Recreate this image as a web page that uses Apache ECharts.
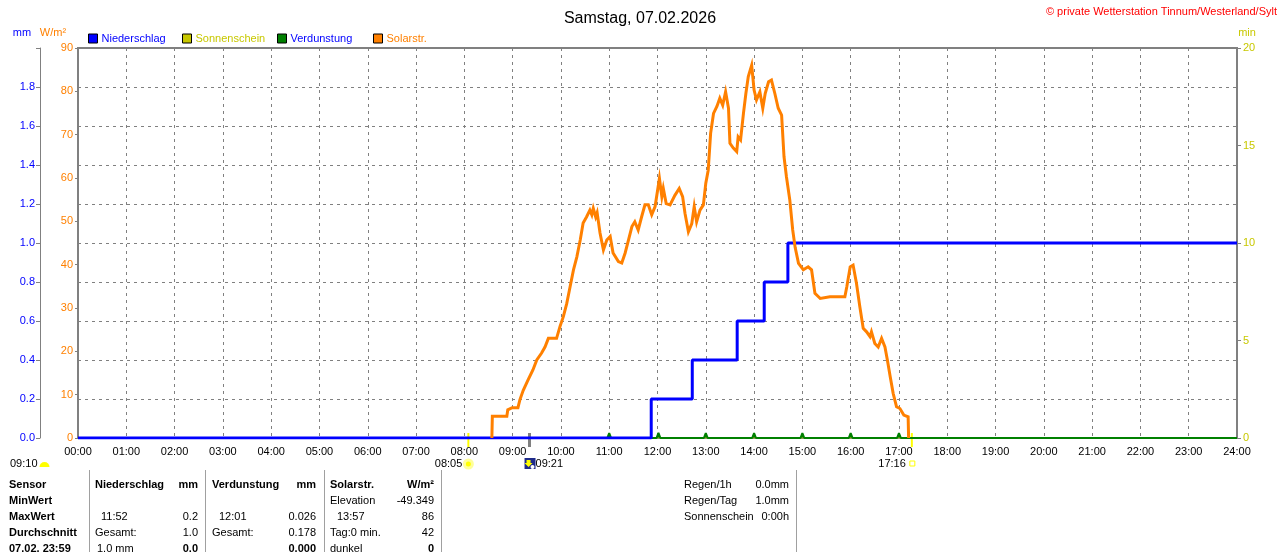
<!DOCTYPE html>
<html><head><meta charset="utf-8">
<script src="https://cdn.jsdelivr.net/npm/echarts/dist/echarts.min.js"></script>
<style>html,body{margin:0;padding:0;background:#fff;overflow:hidden}#c{width:1280px;height:552px}</style>
</head><body><div id="c"></div>
<script>
// ---------- data ----------
const hourLabels = ['00:00','01:00','02:00','03:00','04:00','05:00','06:00','07:00','08:00','09:00','10:00','11:00','12:00','13:00','14:00','15:00','16:00','17:00','18:00','19:00','20:00','21:00','22:00','23:00','24:00'];

// Solarstrahlung (W/m²), time in decimal hours
const solarHours = [8.57,8.58,8.88,8.90,8.99,9.11,9.15,9.22,9.32,9.42,9.50,9.60,9.67,9.74,9.91,9.98,10.05,10.12,10.19,10.26,10.33,10.40,10.46,10.53,10.60,10.64,10.67,10.72,10.75,10.81,10.88,10.95,11.02,11.08,11.19,11.26,11.33,11.40,11.47,11.53,11.60,11.67,11.74,11.81,11.88,11.95,12.04,12.09,12.12,12.18,12.26,12.36,12.45,12.52,12.57,12.64,12.71,12.76,12.81,12.88,12.95,13.00,13.05,13.10,13.16,13.23,13.29,13.35,13.41,13.47,13.50,13.57,13.64,13.67,13.72,13.78,13.83,13.88,13.95,14.00,14.05,14.12,14.18,14.23,14.30,14.36,14.43,14.50,14.57,14.62,14.67,14.74,14.80,14.85,14.92,15.02,15.12,15.19,15.26,15.37,15.57,15.88,15.92,15.99,16.05,16.12,16.19,16.26,16.33,16.40,16.43,16.50,16.57,16.64,16.71,16.76,16.82,16.88,16.95,17.02,17.10,17.19,17.20];
const solarWm2   = [0,5,5,6.5,7,7,8.8,11,13.4,15.7,18,19.6,21,23,23,25.7,28,31,34.9,38.8,41.8,45.7,49.6,51,52.6,51.5,53,51,52,47.3,43.4,45.7,46.5,42.7,40.7,40.4,42.7,45.7,48.8,49.9,48,51,53.8,53.8,51.5,53.4,59.9,55.7,57.6,54.1,53.8,56,57.6,55.7,51.8,47.6,49.5,53.4,49.9,52.6,53.8,58.8,61.8,70.3,74.9,76.5,78.4,76.8,79.9,76.1,68,66.9,66.1,69.5,68.8,74.9,79.5,83.4,86,80.3,78,79.9,76.1,79.5,82.2,82.6,79.5,76.1,74.5,64.9,60.3,54.9,48,44,40.3,38.8,39.5,38.8,33.4,32.2,32.6,32.6,34.9,39.5,39.9,35.7,30.3,25.3,24.5,23.4,24.5,21.8,21,23,21,18,14.1,10.3,7.2,6.8,5.3,4.9,0];

// Niederschlag (mm, cumulative)
const rainHours = [0, 11.87, 12.72, 13.65, 14.21, 14.70, 24];
const rainMm    = [0, 0.2, 0.4, 0.6, 0.8, 1.0, 1.0];

// Verdunstung (mm)
const evapHours = [0,10.96,11.00,11.04,11.98,12.02,12.06,12.96,13.00,13.04,13.96,14.00,14.04,14.96,15.00,15.04,15.96,16.00,16.04,16.96,17.00,17.04,24];
const evapMm    = [0,0,0.025,0,0,0.026,0,0,0.025,0,0,0.025,0,0,0.025,0,0,0.025,0,0,0.025,0,0];

// Sonnenschein (min)
const sunHours = [0, 24];
const sunMin   = [0, 0];

// markers under the time axis
const sunriseTime = 8 + 5/60;   // 08:05
const sunsetTime  = 17 + 16/60; // 17:16
const rainTime    = 9 + 21/60;  // 09:21

const zip = (a, b) => a.map((v, i) => [v, b[i]]);
const FF = '"Liberation Sans", Arial, sans-serif';
const GRID = '#808080';
const dash = [3, 4];

const chart = echarts.init(document.getElementById('c'), null, {renderer: 'canvas'});

const legendNames = ['Niederschlag', 'Sonnenschein', 'Verdunstung', 'Solarstr.'];
const legendTextColors = ['#0000ff', '#c8c800', '#0000ff', '#ff8000'];
const legendLeft = [88, 182, 277, 373];

const option = {
  animation: false,
  backgroundColor: '#ffffff',
  title: {
    text: 'Samstag, 07.02.2026', left: 'center', top: 6,
    textStyle: {fontSize: 16, fontWeight: 'normal', color: '#000', fontFamily: FF}
  },
  legend: legendNames.map((n, i) => ({
    data: [{name: n, icon: 'rect', itemStyle: {borderColor: '#000', borderWidth: 1}}],
    left: legendLeft[i], top: 33, padding: 0, itemWidth: 9, itemHeight: 9, itemGap: 0,
    selectedMode: false,
    textStyle: {color: legendTextColors[i], fontSize: 11, fontFamily: FF, padding: [1, 0, 0, -1]}
  })),
  grid: {left: 78, right: 43, top: 48, bottom: 114, show: true, borderColor: GRID, borderWidth: 2, containLabel: false},
  xAxis: {
    type: 'value', min: 0, max: 24, interval: 1,
    axisLine: {show: true, onZero: false, lineStyle: {color: GRID, width: 2}},
    axisTick: {show: false},
    axisLabel: {color: '#000', fontSize: 11, fontFamily: FF, margin: 8, formatter: v => hourLabels[Math.round(v)]},
    splitLine: {show: true, lineStyle: {color: GRID, type: dash, width: 1}}
  },
  yAxis: [
    {
      type: 'value', position: 'left', offset: 38, min: 0, max: 2, interval: 0.2,
      axisLine: {show: true, onZero: false, lineStyle: {color: GRID, width: 1}},
      axisTick: {show: true, length: 4, lineStyle: {color: GRID}},
      axisLabel: {color: '#0000ff', fontSize: 11, fontFamily: FF, margin: 5, formatter: v => v >= 1.99 ? '' : v.toFixed(1)},
      splitLine: {show: true, lineStyle: {color: GRID, type: dash, width: 1}}
    },
    {
      type: 'value', position: 'left', offset: 0, min: 0, max: 90, interval: 10,
      axisLine: {show: true, onZero: false, lineStyle: {color: GRID, width: 2}},
      axisTick: {show: true, length: 3, lineStyle: {color: GRID}},
      axisLabel: {color: '#ff8000', fontSize: 11, fontFamily: FF, margin: 5},
      splitLine: {show: false}
    },
    {
      type: 'value', position: 'right', min: 0, max: 20, interval: 5,
      axisLine: {show: true, onZero: false, lineStyle: {color: GRID, width: 2}},
      axisTick: {show: true, length: 4, lineStyle: {color: GRID}},
      axisLabel: {color: '#c8c800', fontSize: 11, fontFamily: FF, margin: 6},
      splitLine: {show: false}
    }
  ],
  series: [
    {name: 'Sonnenschein', type: 'line', yAxisIndex: 2, color: '#c8c800', showSymbol: false, symbol: 'none',
     lineStyle: {width: 1, color: '#c8c800'}, data: zip(sunHours, sunMin)},
    {name: 'Verdunstung', type: 'line', yAxisIndex: 0, color: '#008000', showSymbol: false, symbol: 'none',
     lineStyle: {width: 2, color: '#008000'}, areaStyle: {color: '#008000', opacity: 1}, data: zip(evapHours, evapMm)},
    {name: 'Niederschlag', type: 'line', yAxisIndex: 0, color: '#0000ff', showSymbol: false, symbol: 'none', step: 'end',
     lineStyle: {width: 3, color: '#0000ff'}, data: zip(rainHours, rainMm)},
    {name: 'Solarstr.', type: 'line', yAxisIndex: 1, color: '#ff8000', showSymbol: false, symbol: 'none',
     lineStyle: {width: 3, color: '#ff8000', join: 'miter'}, data: zip(solarHours, solarWm2)}
  ]
};
chart.setOption(option);

// ---------- annotations (positions derived from the axis) ----------
const px = h => chart.convertToPixel({xAxisIndex: 0}, h);
const g = [];
const T = (x, y, text, o = {}) => g.push({
  type: 'text', x, y, silent: true,
  style: {text, fill: o.fill || '#000', font: (o.bold ? 'bold ' : '') + (o.size || 11) + 'px ' + FF,
          align: o.align || 'left', verticalAlign: 'middle'}
});

// header texts
T(1277, 12, '\u00A9 private Wetterstation Tinnum/Westerland/Sylt', {fill: '#ff0000', align: 'right'});
T(22, 33, 'mm', {fill: '#0000ff', align: 'center'});
T(53, 33, 'W/m\u00B2', {fill: '#ff8000', align: 'center'});
T(1247, 33, 'min', {fill: '#c8c800', align: 'center'});

// sunrise / sunset / rain markers
const xr = px(sunriseTime), xs = px(sunsetTime), xrain = px(rainTime);
g.push({type: 'line', silent: true, shape: {x1: xr, y1: 433, x2: xr, y2: 447}, style: {stroke: '#ffff00', lineWidth: 2}});
g.push({type: 'line', silent: true, shape: {x1: xs, y1: 433, x2: xs, y2: 447}, style: {stroke: '#ffff00', lineWidth: 2}});
g.push({type: 'line', silent: true, shape: {x1: xrain, y1: 433, x2: xrain, y2: 447}, style: {stroke: '#808080', lineWidth: 3}});

// 09:10 with half-sun
T(10, 464, '09:10');
g.push({type: 'sector', silent: true, shape: {cx: 44.5, cy: 467, r0: 0, r: 5, startAngle: Math.PI, endAngle: Math.PI * 2}, style: {fill: '#ffff00'}});
// 08:05 sunrise
T(xr - 6, 464, '08:05', {align: 'right'});
g.push({type: 'circle', silent: true, shape: {cx: xr, cy: 464, r: 4}, style: {fill: '#ffff00', stroke: '#ffff99', lineWidth: 3}});
// 09:21 rain icon
g.push({type: 'rect', silent: true, shape: {x: xrain - 5, y: 458, width: 11, height: 11}, style: {fill: '#1e2a8a'}});
g.push({type: 'polygon', silent: true, shape: {points: [[xrain - 3, 460], [xrain + 1, 460], [xrain + 1, 463], [xrain + 3, 463], [xrain - 1, 467], [xrain - 5, 463], [xrain - 3, 463]]}, style: {fill: '#ffff00'}});
g.push({type: 'circle', silent: true, shape: {cx: xrain + 3, cy: 467, r: 2}, style: {fill: '#ffffff'}});
T(xrain + 6, 464, '09:21');
// 17:16 sunset
T(xs - 6, 464, '17:16', {align: 'right'});
g.push({type: 'rect', silent: true, shape: {x: xs - 2, y: 461, width: 5, height: 5}, style: {fill: '#ffffff', stroke: '#ffff00', lineWidth: 1}});

// ---------- table ----------
const rows = [485, 501, 517, 533, 549];
[89, 205, 324, 441, 796].forEach(x => g.push({type: 'line', silent: true, shape: {x1: x + 0.5, y1: 470, x2: x + 0.5, y2: 552}, style: {stroke: '#a0a0a0', lineWidth: 1}}));

T(9, rows[0], 'Sensor', {bold: 1});
T(9, rows[1], 'MinWert', {bold: 1});
T(9, rows[2], 'MaxWert', {bold: 1});
T(9, rows[3], 'Durchschnitt', {bold: 1});
T(9, rows[4], '07.02. 23:59', {bold: 1});

T(95, rows[0], 'Niederschlag', {bold: 1});
T(198, rows[0], 'mm', {bold: 1, align: 'right'});
T(101, rows[2], '11:52');
T(198, rows[2], '0.2', {align: 'right'});
T(95, rows[3], 'Gesamt:');
T(198, rows[3], '1.0', {align: 'right'});
T(97, rows[4], '1.0 mm');
T(198, rows[4], '0.0', {bold: 1, align: 'right'});

T(212, rows[0], 'Verdunstung', {bold: 1});
T(316, rows[0], 'mm', {bold: 1, align: 'right'});
T(219, rows[2], '12:01');
T(316, rows[2], '0.026', {align: 'right'});
T(212, rows[3], 'Gesamt:');
T(316, rows[3], '0.178', {align: 'right'});
T(316, rows[4], '0.000', {bold: 1, align: 'right'});

T(330, rows[0], 'Solarstr.', {bold: 1});
T(434, rows[0], 'W/m\u00B2', {bold: 1, align: 'right'});
T(330, rows[1], 'Elevation');
T(434, rows[1], '-49.349', {align: 'right'});
T(337, rows[2], '13:57');
T(434, rows[2], '86', {align: 'right'});
T(330, rows[3], 'Tag:0 min.');
T(434, rows[3], '42', {align: 'right'});
T(330, rows[4], 'dunkel');
T(434, rows[4], '0', {bold: 1, align: 'right'});

T(684, rows[0], 'Regen/1h');
T(789, rows[0], '0.0mm', {align: 'right'});
T(684, rows[1], 'Regen/Tag');
T(789, rows[1], '1.0mm', {align: 'right'});
T(684, rows[2], 'Sonnenschein');
T(789, rows[2], '0:00h', {align: 'right'});

chart.setOption({graphic: {elements: g}});
</script>
</body></html>
